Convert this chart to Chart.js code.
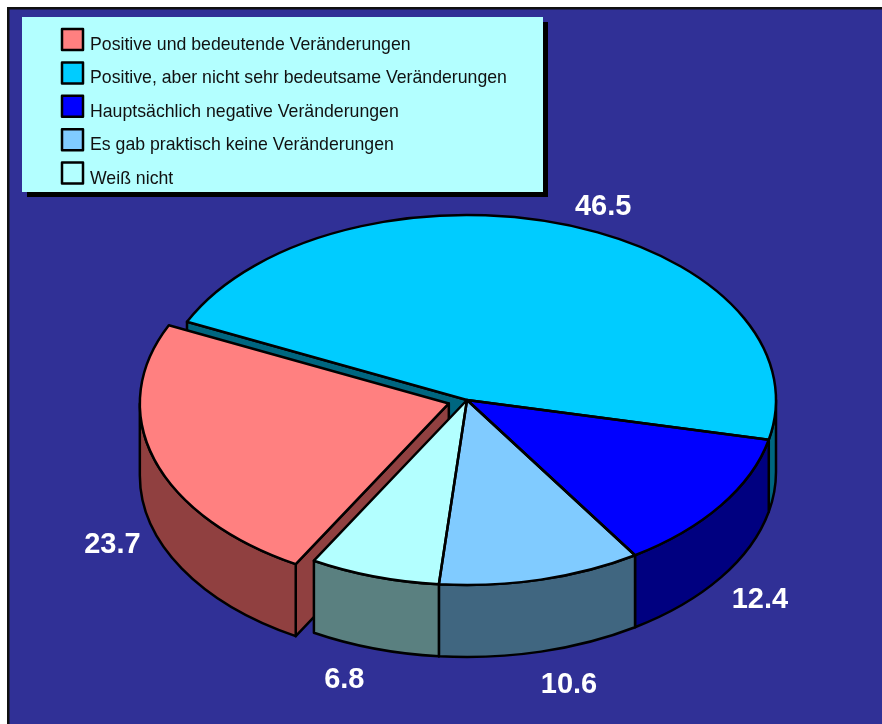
<!DOCTYPE html>
<html><head><meta charset="utf-8">
<style>html,body{margin:0;padding:0;background:#fff}canvas{display:block}</style>
<script src="https://cdn.jsdelivr.net/npm/chart.js@4"></script></head>
<body><canvas id="c" width="882" height="724"></canvas>
<script>
const categories = ['Positive und bedeutende Veränderungen','Positive, aber nicht sehr bedeutsame Veränderungen','Hauptsächlich negative Veränderungen','Es gab praktisch keine Veränderungen','Weiß nicht'];
const values = [23.7, 46.5, 12.4, 10.6, 6.8];
const topColors = ['#FF8080','#00CCFF','#0000FF','#80CBFF','#B3FFFF'];
const wallColors = ['#904040','#006680','#000080','#406680','#5A8080'];
const sliceOffsets = [76, 0, 0, 0, 0];
const labelNudges = [[-42,85],[37,-18],[39,95],[28,105],[-30,104]];
const squash = 0.5987, depth = 72, TAU = Math.PI*2;

function geom(arc){
  const p = arc.getProps(['x','y','startAngle','endAngle','outerRadius','circumference'], true);
  const off = (arc.options.offset||0)/4;
  const mid = (p.startAngle+p.endAngle)/2;
  const fix = 1 - Math.sin(Math.min(Math.PI, p.circumference||0));
  const s = off*(1+fix);
  return {cx:p.x+Math.cos(mid)*s, cy:p.y+Math.sin(mid)*s*squash, r:p.outerRadius, ry:p.outerRadius*squash, a0:p.startAngle, a1:p.endAngle, mid};
}
const pie3d = {
  id:'pie3d',
  beforeDraw(chart){
    const c = chart.ctx;
    c.save();
    c.fillStyle='#fff'; c.fillRect(0,0,882,724);
    c.fillStyle='#303096'; c.fillRect(8,8,874,716);
    c.fillStyle='#111'; c.fillRect(7,7,875,2.5); c.fillRect(7,7,2.5,717);
    c.restore();
  },
  beforeDatasetsDraw(chart){
    const c = chart.ctx, arcs = chart.getDatasetMeta(0).data;
    c.save();
    c.strokeStyle='#000'; c.lineWidth=2.5; c.lineJoin='round';
    // radial cut faces, back slices first so the exploded slice stays in front
    arcs.slice().map((arc,i)=>[arc,i]).reverse().forEach(([arc,i])=>{
      const g = geom(arc);
      if(Math.cos(g.a0)<0){
        const x=g.cx+g.r*Math.cos(g.a0), y=g.cy+g.ry*Math.sin(g.a0);
        c.beginPath(); c.moveTo(g.cx,g.cy); c.lineTo(x,y); c.lineTo(x,y+depth); c.lineTo(g.cx,g.cy+depth); c.closePath();
        c.fillStyle=wallColors[i]; c.fill(); c.stroke();
      }
    });
    // outer rim walls
    arcs.forEach((arc,i)=>{
      const g = geom(arc);
      for(let k=-1;k<=1;k++){
        const lo=Math.max(g.a0+k*TAU,0), hi=Math.min(g.a1+k*TAU,Math.PI);
        if(hi<=lo) continue;
        c.beginPath();
        c.ellipse(g.cx,g.cy,g.r,g.ry,0,lo,hi);
        c.ellipse(g.cx,g.cy+depth,g.r,g.ry,0,hi,lo,true);
        c.closePath();
        c.fillStyle=wallColors[i]; c.fill(); c.stroke();
      }
    });
    c.restore();
    const cy = arcs[0].y;
    c.save();
    c.translate(0,cy); c.scale(1,squash); c.translate(0,-cy);
  },
  afterDatasetsDraw(chart){
    const c = chart.ctx, arcs = chart.getDatasetMeta(0).data;
    c.restore();
    c.save();
    c.strokeStyle='#000'; c.lineWidth=2.5; c.lineJoin='round';
    arcs.forEach(arc=>{
      const g = geom(arc);
      c.beginPath(); c.moveTo(g.cx,g.cy);
      c.ellipse(g.cx,g.cy,g.r,g.ry,0,g.a0,g.a1);
      c.closePath(); c.stroke();
    });
    // value labels
    c.fillStyle='#fff'; c.font='bold 29px "Liberation Sans", Arial, sans-serif';
    c.textAlign='center'; c.textBaseline='middle';
    arcs.forEach((arc,i)=>{
      const g = geom(arc);
      c.fillText(String(values[i]), g.cx+g.r*Math.cos(g.mid)+labelNudges[i][0], g.cy+g.ry*Math.sin(g.mid)+labelNudges[i][1]);
    });
    // legend
    c.fillStyle='#000'; c.fillRect(27,22,521,175);
    c.fillStyle='#B3FFFF'; c.fillRect(22,17,521,175);
    c.font='17.7px "Liberation Sans", Arial, sans-serif'; c.textAlign='left'; c.textBaseline='alphabetic';
    categories.forEach((t,i)=>{
      const y=29+i*33.4;
      c.fillStyle=topColors[i]; c.fillRect(62,y,21,21);
      c.strokeStyle='#000'; c.lineWidth=2.5; c.strokeRect(62,y,21,21);
      c.fillStyle='#111'; c.fillText(t,90,50+i*33.4);
    });
    c.restore();
  }
};
new Chart(document.getElementById('c'),{
  type:'pie',
  data:{labels:categories,datasets:[{data:values,backgroundColor:topColors,borderWidth:0,offset:sliceOffsets,hoverOffset:0}]},
  options:{
    responsive:false,animation:false,events:[],
    rotation:209.7,radius:309,
    layout:{padding:{left:52,right:0,top:76,bottom:0}},
    plugins:{legend:{display:false},tooltip:{enabled:false}}
  },
  plugins:[pie3d]
});
</script></body></html>
